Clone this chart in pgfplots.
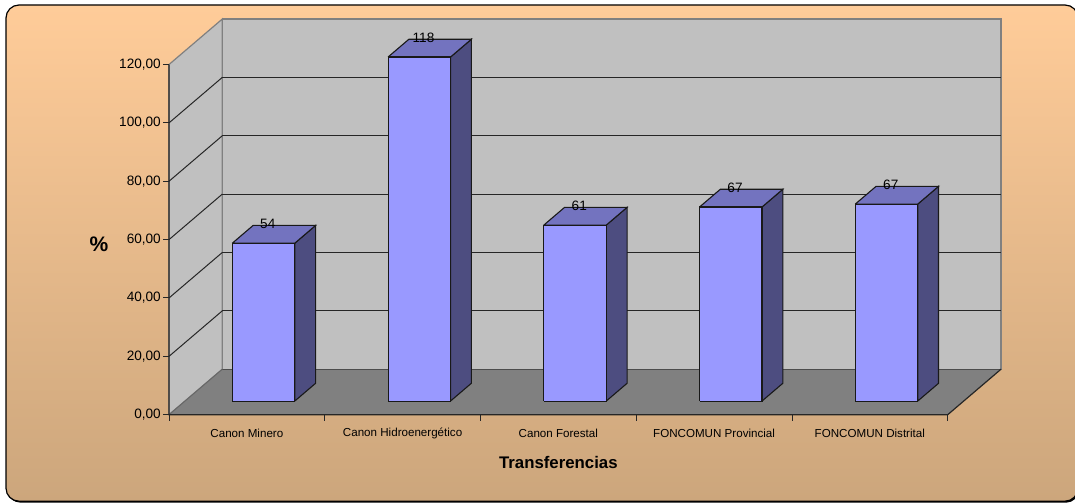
\documentclass[border=0pt]{standalone}
\usepackage{pgfplots}
\pgfplotsset{compat=1.18}
\usepackage{fontspec}
\setmainfont{Liberation Sans}

\definecolor{wall}{HTML}{C0C0C0}
\definecolor{floorc}{HTML}{808080}
\definecolor{barfront}{HTML}{9999FF}
\definecolor{bartop}{HTML}{7373BF}
\definecolor{barside}{HTML}{4D4D80}
\definecolor{bgtop}{HTML}{FFCC99}
\definecolor{bgbottom}{HTML}{CCA67C}

% x0, x1, value, label
\newcommand{\barra}[4]{
  \addplot3[draw=black!90,line width=1.1pt,fill=barside] coordinates {(#2,0.30,0) (#2,0.69,0) (#2,0.69,#3) (#2,0.30,#3) (#2,0.30,0)};
  \addplot3[draw=black!90,line width=1.1pt,fill=bartop] coordinates {(#1,0.30,#3) (#2,0.30,#3) (#2,0.69,#3) (#1,0.69,#3) (#1,0.30,#3)};
  \addplot3[draw=black!90,line width=1.1pt,fill=barfront] coordinates {(#1,0.30,0) (#2,0.30,0) (#2,0.30,#3) (#1,0.30,#3) (#1,0.30,0)};
  \node[font=\fontsize{13.6}{15}\selectfont,text=black,inner sep=0pt,xshift=-27pt,yshift=19pt] at (axis cs:#2,0.30,#3) {#4};
}
\newcommand{\ticky}[2]{
  \draw[black!85,line width=1pt] (axis cs:0,1,#1) -- (axis cs:5,1,#1);
  \draw[black!85,line width=1pt] (axis cs:0,0,#1) -- (axis cs:0,1,#1);
  \draw[black!85,line width=1pt] (axis cs:0,0,#1) -- ++(-6pt,0pt);
  \node[anchor=east,font=\fontsize{13.6}{15}\selectfont,text=black,inner sep=0pt,xshift=-8pt] at (axis cs:0,0,#1) {#2};
}
\newcommand{\catlabel}[2]{
  \draw[black!85,line width=.8pt] (axis cs:#1,0,0) -- ++(0pt,-6.5pt);
  \node[font=\fontsize{11.6}{14}\selectfont,text=black,inner sep=0pt] at (axis cs:#1+0.5,0,-6.4) {#2};
}

\begin{document}
\begin{tikzpicture}[x=1pt,y=1pt]
\useasboundingbox (0,0) rectangle (1075,503);
\fill[white] (0,0) rectangle (1075,503);
\begin{scope}
  \clip (0,0) rectangle (1075,503);
  \fill[black,rounded corners=13pt] (7.5,0.3) rectangle (1079,496);
  \shade[top color=bgtop,bottom color=bgbottom,rounded corners=13pt] (6,1.8) rectangle (1078,498);
  \draw[black,line width=1.2pt,rounded corners=13pt] (6,1.8) rectangle (1078,498);
\end{scope}
\begin{axis}[
    at={(169pt,88.3pt)},
    anchor=origin,
    x={(155.74pt,0pt)},
    y={(53.3pt,45.5pt)},
    z={(0pt,2.918pt)},
    xmin=0,xmax=5,
    ymin=0,ymax=1,
    zmin=0,zmax=120,
    hide axis,
    clip=false,
    no marks,
]
% walls and floor
\addplot3[draw=floorc,line width=1.2pt,fill=wall] coordinates {(0,1,0) (5,1,0) (5,1,120) (0,1,120) (0,1,0)};
\addplot3[draw=floorc,line width=1.2pt,fill=wall] coordinates {(0,0,0) (0,1,0) (0,1,120) (0,0,120) (0,0,0)};
\addplot3[draw=none,fill=floorc] coordinates {(0,0,0) (5,0,0) (5,1,0) (0,1,0) (0,0,0)};
\draw[black!70,line width=1.2pt] (axis cs:0,1,0) -- (axis cs:5,1,0);
\draw[floorc!80!black,line width=1pt] (axis cs:0,0,0) -- (axis cs:0,1,0);

\ticky{20}{20,00}
\ticky{40}{40,00}
\ticky{60}{60,00}
\ticky{80}{80,00}
\ticky{100}{100,00}

% top line of the side wall stays grey, only the tick is dark
\draw[black!85,line width=1pt] (axis cs:0,0,120) -- ++(-6pt,0pt);
\node[anchor=east,font=\fontsize{13.6}{15}\selectfont,text=black,inner sep=0pt,xshift=-8pt] at (axis cs:0,0,120) {120,00};
\draw[black!85,line width=1pt] (axis cs:0,0,0) -- ++(-6pt,0pt);
\node[anchor=east,font=\fontsize{13.6}{15}\selectfont,text=black,inner sep=0pt,xshift=-8pt] at (axis cs:0,0,0) {0,00};

% front axis lines
\draw[black!85,line width=1.2pt] (axis cs:0,0,120) -- (axis cs:0,0,0) -- (axis cs:5,0,0) -- (axis cs:5,1,0);

\catlabel{0}{Canon Minero}
\catlabel{1}{Canon Hidroenergético}
\catlabel{2}{Canon Forestal}
\catlabel{3}{FONCOMUN Provincial}
\catlabel{4}{FONCOMUN Distrital}
\draw[black!85,line width=.8pt] (axis cs:5,0,0) -- ++(0pt,-6.5pt);

\barra{0.304}{0.705}{54.1}{54}
\barra{1.304}{1.705}{117.9}{118}
\barra{2.304}{2.705}{60.3}{61}
\barra{3.304}{3.705}{66.5}{67}
\barra{4.304}{4.705}{67.5}{67}

\node[font=\bfseries\fontsize{16.8}{19}\selectfont,text=black,inner sep=0pt] at (axis cs:2.5,0,-16.55) {Transferencias};
\node[font=\bfseries\fontsize{21}{24}\selectfont,text=black,inner sep=0pt] at (axis cs:-0.449,0,58.5) {\%};
\end{axis}
\end{tikzpicture}
\end{document}
